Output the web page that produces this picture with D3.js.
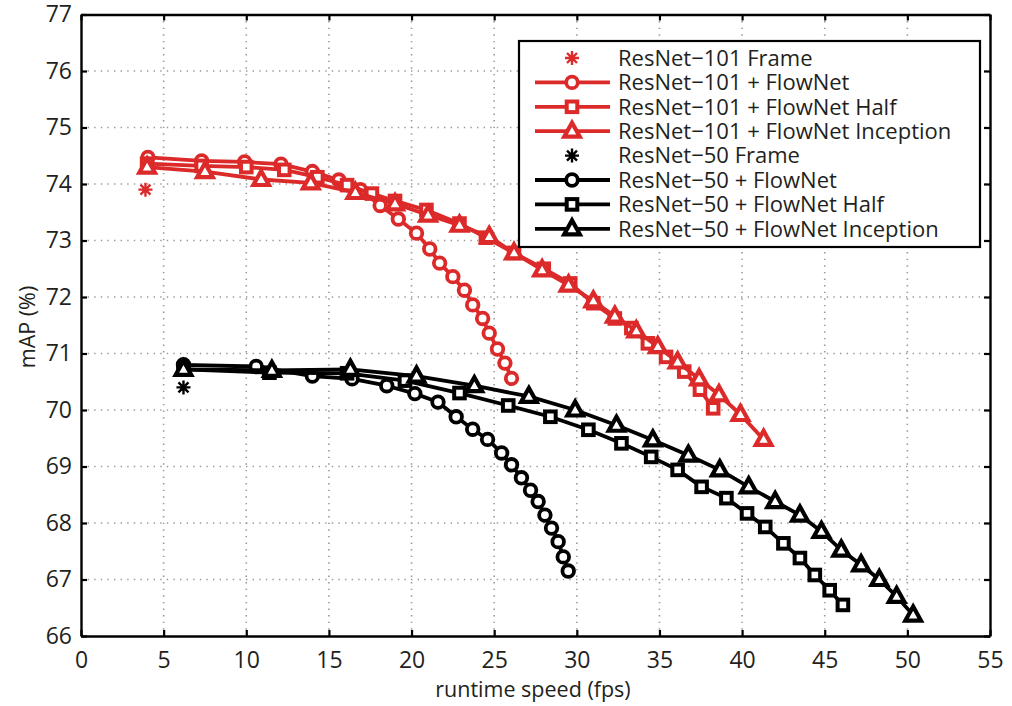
<!DOCTYPE html>
<html>
<head>
<meta charset="utf-8">
<script src="https://cdn.jsdelivr.net/npm/d3@7"></script>
<style>
  body { margin: 0; background: #fff; }
  text { font-family: "Open Sans", sans-serif; fill: #231f20; }
</style>
</head>
<body>
<svg id="chart" width="1012" height="706"></svg>
<script>
// values: [runtime speed (fps), mAP (%)]
const r101Frame = [[3.9, 73.9]];
const r101Flow = [[4.05, 74.47], [7.3, 74.41], [9.9, 74.39], [12.1, 74.35], [14.0, 74.22], [15.6, 74.07],
  [16.9, 73.9], [18.1, 73.62], [19.2, 73.38], [20.3, 73.13], [21.1, 72.85], [21.7, 72.6], [22.5, 72.36],
  [23.2, 72.12], [23.7, 71.86], [24.3, 71.62], [24.7, 71.36], [25.2, 71.08], [25.65, 70.83], [26.05, 70.56]];
const r101Half = [[4.0, 74.36], [7.3, 74.32], [10.0, 74.3], [12.3, 74.25], [14.3, 74.12], [16.1, 73.98],
  [17.6, 73.83], [19.0, 73.7], [20.9, 73.54], [22.9, 73.3], [24.5, 73.05], [26.2, 72.78], [28.0, 72.5],
  [29.6, 72.24], [31.0, 71.89], [32.3, 71.62], [33.3, 71.45], [34.3, 71.18], [35.4, 70.94], [36.5, 70.68],
  [37.45, 70.36], [38.25, 70.03]];
const r101Incep = [[4.0, 74.3], [7.5, 74.22], [10.9, 74.08], [13.9, 74.02], [16.6, 73.85], [19.0, 73.65],
  [21.0, 73.45], [22.9, 73.27], [24.7, 73.07], [26.2, 72.78], [27.9, 72.48], [29.5, 72.21], [31.0, 71.93],
  [32.3, 71.66], [33.6, 71.4], [34.9, 71.12], [36.1, 70.85], [37.4, 70.55], [38.6, 70.27], [39.9, 69.92],
  [41.3, 69.48]];
const r50Frame = [[6.2, 70.4]];
const r50Flow = [[6.2, 70.8], [10.6, 70.77], [14.0, 70.6], [16.4, 70.55], [18.5, 70.43], [20.2, 70.29],
  [21.6, 70.14], [22.7, 69.88], [23.7, 69.66], [24.6, 69.48], [25.45, 69.24], [26.05, 69.03], [26.65, 68.8],
  [27.2, 68.58], [27.66, 68.38], [28.07, 68.14], [28.47, 67.91], [28.87, 67.67], [29.18, 67.4], [29.48, 67.15]];
const r50Half = [[6.2, 70.72], [11.4, 70.66], [16.1, 70.65], [19.6, 70.52], [22.9, 70.3], [25.85, 70.08],
  [28.4, 69.88], [30.7, 69.65], [32.7, 69.41], [34.5, 69.17], [36.1, 68.94], [37.55, 68.64], [39.05, 68.44],
  [40.3, 68.17], [41.4, 67.93], [42.5, 67.64], [43.5, 67.38], [44.4, 67.08], [45.3, 66.81], [46.1, 66.55]];
const r50Incep = [[6.2, 70.72], [11.55, 70.7], [16.3, 70.72], [20.3, 70.6], [23.8, 70.43], [27.1, 70.24],
  [29.9, 70.0], [32.4, 69.73], [34.6, 69.47], [36.75, 69.2], [38.65, 68.94], [40.4, 68.64], [42.0, 68.38],
  [43.5, 68.14], [44.8, 67.85], [46.0, 67.52], [47.2, 67.26], [48.3, 67.0], [49.35, 66.7], [50.35, 66.37]];

const seriesNames = ["ResNet\u2212101 Frame", "ResNet\u2212101 + FlowNet", "ResNet\u2212101 + FlowNet Half",
  "ResNet\u2212101 + FlowNet Inception", "ResNet\u221250 Frame", "ResNet\u221250 + FlowNet",
  "ResNet\u221250 + FlowNet Half", "ResNet\u221250 + FlowNet Inception"];
const xTicks = [0, 5, 10, 15, 20, 25, 30, 35, 40, 45, 50, 55];
const yTicks = [66, 67, 68, 69, 70, 71, 72, 73, 74, 75, 76, 77];

const red = "#dc2a2a", black = "#000";
const series = [
  {name: seriesNames[0], data: r101Frame, color: red, marker: "star", line: false},
  {name: seriesNames[1], data: r101Flow, color: red, marker: "circle", line: true},
  {name: seriesNames[2], data: r101Half, color: red, marker: "square", line: true},
  {name: seriesNames[3], data: r101Incep, color: red, marker: "triangle", line: true},
  {name: seriesNames[4], data: r50Frame, color: black, marker: "star", line: false},
  {name: seriesNames[5], data: r50Flow, color: black, marker: "circle", line: true},
  {name: seriesNames[6], data: r50Half, color: black, marker: "square", line: true},
  {name: seriesNames[7], data: r50Incep, color: black, marker: "triangle", line: true},
];

const svg = d3.select("#chart");
const pLeft = 81, pRight = 990, pTop = 14.5, pBottom = 636;

const x = d3.scaleLinear().domain([0, 55]).range([pLeft, pRight]);
const y = d3.scaleLinear().domain([66, 77]).range([pBottom, pTop]);

// dotted grid
const grid = svg.append("g")
  .attr("stroke", "#999").attr("stroke-width", 1.6).attr("stroke-dasharray", "1.4,5.2");
grid.selectAll(".gx").data(xTicks.slice(1, -1)).join("line")
  .attr("x1", d => x(d)).attr("x2", d => x(d)).attr("y1", pTop).attr("y2", pBottom);
grid.selectAll(".gy").data(yTicks.slice(1, -1)).join("line")
  .attr("x1", pLeft).attr("x2", pRight).attr("y1", d => y(d)).attr("y2", d => y(d));

// axes, ticks pointing inward on all four sides
const axes = svg.append("g");
axes.append("g").attr("transform", `translate(0,${pBottom})`)
  .call(d3.axisBottom(x).tickValues(xTicks).tickSize(-6).tickSizeOuter(0).tickPadding(16));
axes.append("g").attr("transform", `translate(${pLeft},0)`)
  .call(d3.axisLeft(y).tickValues(yTicks).tickSize(-6).tickSizeOuter(0).tickPadding(9));
axes.append("g").attr("transform", `translate(0,${pTop})`)
  .call(d3.axisTop(x).tickValues(xTicks).tickSize(-6).tickSizeOuter(0).tickFormat(""));
axes.append("g").attr("transform", `translate(${pRight},0)`)
  .call(d3.axisRight(y).tickValues(yTicks).tickSize(-6).tickSizeOuter(0).tickFormat(""));
axes.selectAll("path.domain").attr("stroke-width", 2.4);
axes.selectAll(".tick line").attr("stroke-width", 2.2);
axes.selectAll(".tick text").style("font-size", "23px").attr("fill", "#231f20");

svg.append("text").attr("x", 533).attr("y", 697).attr("text-anchor", "middle")
  .style("font-size", "21.5px").text("runtime speed (fps)");
svg.append("text").attr("transform", "translate(35,327) rotate(-90)").attr("text-anchor", "middle")
  .style("font-size", "21.5px").text("mAP (%)");

function drawMarker(g, kind, color) {
  if (kind === "circle") {
    g.append("circle").attr("r", 5.8).attr("fill", "#fff").attr("stroke", color).attr("stroke-width", 3.8);
  } else if (kind === "square") {
    g.append("rect").attr("x", -5.3).attr("y", -5.3).attr("width", 10.6).attr("height", 10.6)
      .attr("fill", "#fff").attr("stroke", color).attr("stroke-width", 4);
  } else if (kind === "triangle") {
    g.append("path").attr("d", "M0,-8.5L7.8,5.5L-7.8,5.5Z")
      .attr("fill", "#fff").attr("stroke", color).attr("stroke-width", 4.2).attr("stroke-linejoin", "miter");
  } else {
    g.append("path").attr("d", "M-7,0H7M0,-7V7M-5,-5L5,5M-5,5L5,-5")
      .attr("stroke", color).attr("stroke-width", 2.4);
  }
}

const line = d3.line().x(d => x(d[0])).y(d => y(d[1]));
const plot = svg.append("g");
series.forEach(s => {
  const g = plot.append("g");
  if (s.line) {
    g.append("path").attr("d", line(s.data)).attr("fill", "none")
      .attr("stroke", s.color).attr("stroke-width", 3.8).attr("stroke-linejoin", "round");
  }
  s.data.forEach(d => {
    drawMarker(g.append("g").attr("transform", `translate(${x(d[0])},${y(d[1])})`), s.marker, s.color);
  });
});

// legend
const lg = svg.append("g");
lg.append("rect").attr("x", 519).attr("y", 41).attr("width", 461).attr("height", 206)
  .attr("fill", "#fff").attr("stroke", "#000").attr("stroke-width", 2.2);
series.forEach((s, i) => {
  const ry = 58 + i * 24.4;
  const row = lg.append("g").attr("transform", `translate(0,${ry})`);
  if (s.line) {
    row.append("line").attr("x1", 535).attr("x2", 610).attr("stroke", s.color).attr("stroke-width", 3.8);
  }
  drawMarker(row.append("g").attr("transform", "translate(572,0)"), s.marker, s.color);
  row.append("text").attr("x", 618).attr("dy", "0.35em").style("font-size", "22px").text(s.name);
});
</script>
</body>
</html>
